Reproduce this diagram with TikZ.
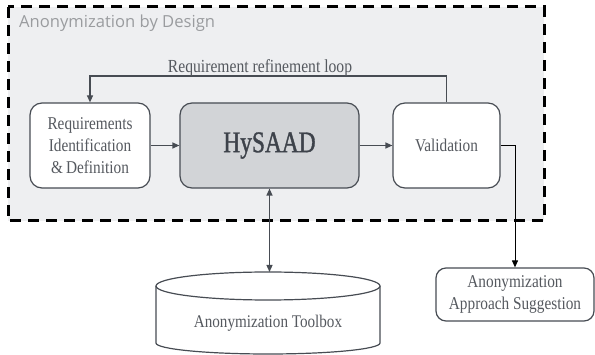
\documentclass[tikz,border=0pt]{standalone}
\usepackage{fontspec}
\setmainfont{Liberation Serif}
\newfontfamily\condserif[FakeStretch=0.85]{Liberation Serif}
\newfontfamily\hysfont[FakeStretch=0.78,FakeBold=1.2]{Liberation Serif}
\newfontfamily\labelfont{Open Sans}
\usetikzlibrary{arrows.meta}
\definecolor{framefill}{HTML}{EEEFF1}
\definecolor{boxline}{HTML}{474C53}
\definecolor{boxtext}{HTML}{55595F}
\definecolor{hysfill}{HTML}{D2D4D7}
\definecolor{hystext}{HTML}{3D424A}
\definecolor{labelgray}{HTML}{9A9C9F}
\tikzset{
  x=1pt, y=-1pt,
  procbox/.style={draw=boxline, line width=1.2pt, rounded corners=12pt, fill=white,
    text=boxtext, font=\condserif\fontsize{18}{21.7}\selectfont, align=center, inner sep=0pt},
  conn/.style={draw=boxline, line width=1.2pt, -{Triangle[length=7pt,width=6pt]}},
}
\begin{document}
\begin{tikzpicture}
\useasboundingbox (0,0) rectangle (595,355);
% frame
\draw[fill=framefill, draw=black, line width=3pt, dash pattern=on 11pt off 7pt] (8,7) rectangle (544,221);
\node[anchor=west, text=labelgray, font=\labelfont\fontsize{16.6}{18}\selectfont, inner sep=0pt] (title) at (19,23) {Anonymization by Design};
% boxes
\node[procbox, minimum width=120pt, minimum height=85pt] (req) at (90,145.5) {Requirements\\Identification\\\&\,Definition};
\node[procbox, fill=hysfill, text=hystext, font=\hysfont\fontsize{30}{32}\selectfont, minimum width=179pt, minimum height=85pt] (hys) at (269.5,145.5) {HySAAD};
\node[procbox, minimum width=107pt, minimum height=85pt] (val) at (446.5,145.5) {Validation};
\node[procbox, rounded corners=10pt, minimum width=158pt, minimum height=53pt] (sug) at (515,294.5) {Anonymization\\Approach Suggestion};
% loop
\coordinate (loopR) at (446.5,76);
\coordinate (loopL) at (90,76);
\draw[conn] (val.north) -- (loopR) -- (loopL) -- (req.north);
\node[text=boxtext, font=\condserif\fontsize{18.4}{20}\selectfont, anchor=base, inner sep=0pt] (looplbl) at (260,72.5) {Requirement refinement loop};
\draw[conn] (req.east) -- (hys.west);
\draw[conn] (hys.east) -- (val.west);
\draw[draw=black, line width=1pt, -{Triangle[length=7pt,width=6pt]}] (val.east) -| (sug.north);
% cylinder
\draw[draw=boxline, line width=1.2pt, fill=white] (156,286) -- (156,343) arc[start angle=180, end angle=360, x radius=112, y radius=-11] -- (380,286);
\draw[draw=boxline, line width=1.2pt, fill=white] (268,286) ellipse[x radius=112, y radius=14];
\node[text=boxtext, font=\condserif\fontsize{17.8}{20}\selectfont, inner sep=0pt] (tool) at (268,323) {Anonymization Toolbox};
\coordinate (cyltop) at (hys.south |- 0,272);
\draw[conn, {Triangle[length=7pt,width=6pt]}-{Triangle[length=7pt,width=6pt]}] (hys.south) -- (cyltop);
\end{tikzpicture}
\end{document}
